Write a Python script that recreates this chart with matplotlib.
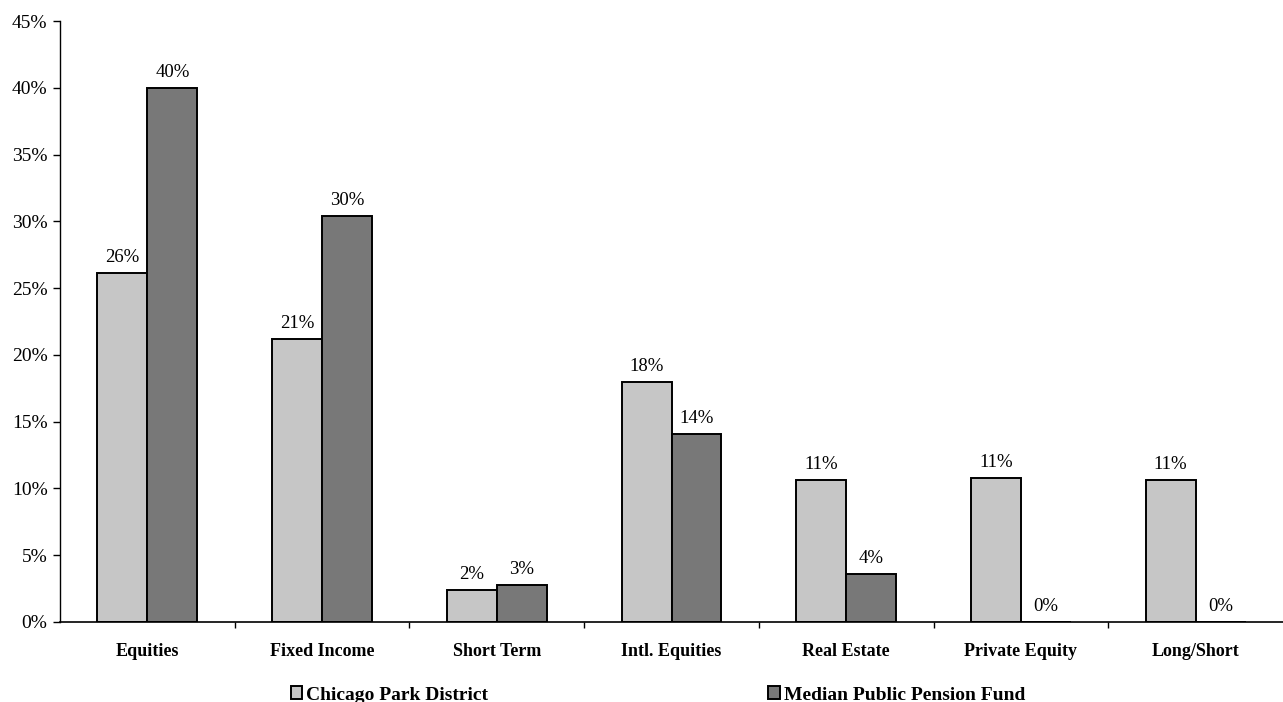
import numpy as np
import matplotlib.pyplot as plt
from matplotlib.ticker import PercentFormatter

# Asset allocation, percent of portfolio
categories = ["Equities", "Fixed Income", "Short Term", "Intl. Equities",
              "Real Estate", "Private Equity", "Long/Short"]
park_district = [26.1, 21.2, 2.4, 18.0, 10.6, 10.8, 10.6]
median_fund = [40.0, 30.4, 2.8, 14.1, 3.6, 0.0, 0.0]
series_names = ["Chicago Park District", "Median Public Pension Fund"]

plt.rcParams['font.family'] = ['Liberation Serif', 'DejaVu Serif']

fig = plt.figure(figsize=(12.83, 7.02), dpi=100)
ax = fig.add_axes([60 / 1283, 80 / 702, 1 - 60 / 1283, 601 / 702])

x = np.arange(len(categories))
w = 0.286
light = "#c6c6c6"
dark = "#787878"

b1 = ax.bar(x - w / 2, park_district, w, color=light, edgecolor="black", linewidth=1.4,
            label=series_names[0])
b2 = ax.bar(x + w / 2, median_fund, w, color=dark, edgecolor="black", linewidth=1.4,
            label=series_names[1])

for bars in (b1, b2):
    for r in bars:
        h = r.get_height()
        ax.annotate(f"{h:.0f}%", (r.get_x() + r.get_width() / 2, h),
                    xytext=(0, 5), textcoords="offset points",
                    ha="center", va="bottom", fontsize=13.5)

ax.set_xlim(-0.5, len(categories) - 0.5)
ax.set_ylim(0, 45)
ax.set_yticks(np.arange(0, 46, 5))
ax.yaxis.set_major_formatter(PercentFormatter(decimals=0))
ax.tick_params(axis="y", labelsize=14, length=5, width=1, direction="out", pad=4)

# category labels centred, ticks on category boundaries
ax.set_xticks(x)
ax.set_xticklabels(categories, fontsize=13, fontweight="bold")
ax.tick_params(axis="x", which="major", length=0, pad=15)
ax.set_xticks(np.arange(0.5, len(categories) - 0.5, 1), minor=True)
ax.tick_params(axis="x", which="minor", length=4, width=1, direction="out")

for s in ("top", "right"):
    ax.spines[s].set_visible(False)
ax.spines["left"].set_linewidth(1.0)
ax.spines["bottom"].set_linewidth(1.2)

leg = fig.legend(handles=[b1, b2], loc="center left",
                 bbox_to_anchor=(283 / 1283, 1 - 695 / 702), ncol=2, frameon=False,
                 prop={"size": 14, "weight": "bold"},
                 handlelength=0.6, handleheight=0.6, handletextpad=0.2,
                 columnspacing=14.4, borderaxespad=0)

fig.savefig("out.png", dpi=100)
